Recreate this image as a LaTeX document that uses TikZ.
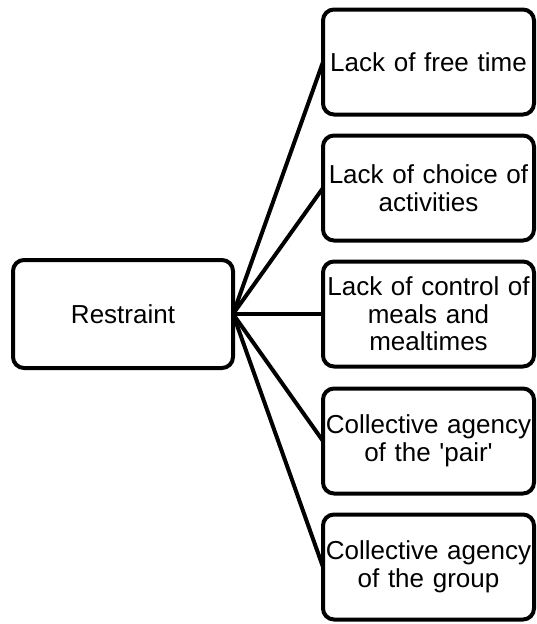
\documentclass[tikz,border=0pt]{standalone}
\usepackage{fontspec}
\setmainfont{Liberation Sans}
\begin{document}
\begin{tikzpicture}[x=1pt,y=-1pt,
  box/.style={draw=black,line width=4pt,rounded corners=11pt,fill=white,align=center,outer sep=0pt,inner sep=0pt,
    font=\fontsize{26}{27.5}\selectfont},
  leftbox/.style={box,minimum width=220pt,minimum height=108pt},
  rightbox/.style={box,minimum width=211pt,minimum height=105pt,text width=211pt},
  link/.style={line width=4pt,black}]
\useasboundingbox (0,0) rectangle (537,624);
\node[leftbox] (L) at (123,314) {Restraint};
\node[rightbox] (r1) at (428.5,62) {Lack of free time};
\node[rightbox] (r2) at (428.5,188) {Lack of choice of\\activities};
\node[rightbox] (r3) at (428.5,314) {Lack of control of\\meals and\\mealtimes};
\node[rightbox] (r4) at (428.5,441) {Collective agency\\of the \textquotesingle pair\textquotesingle};
\node[rightbox] (r5) at (428.5,567) {Collective agency\\of the group};
\foreach \i in {1,...,5} \draw[link] (L.east) -- (r\i.west);
\end{tikzpicture}
\end{document}
